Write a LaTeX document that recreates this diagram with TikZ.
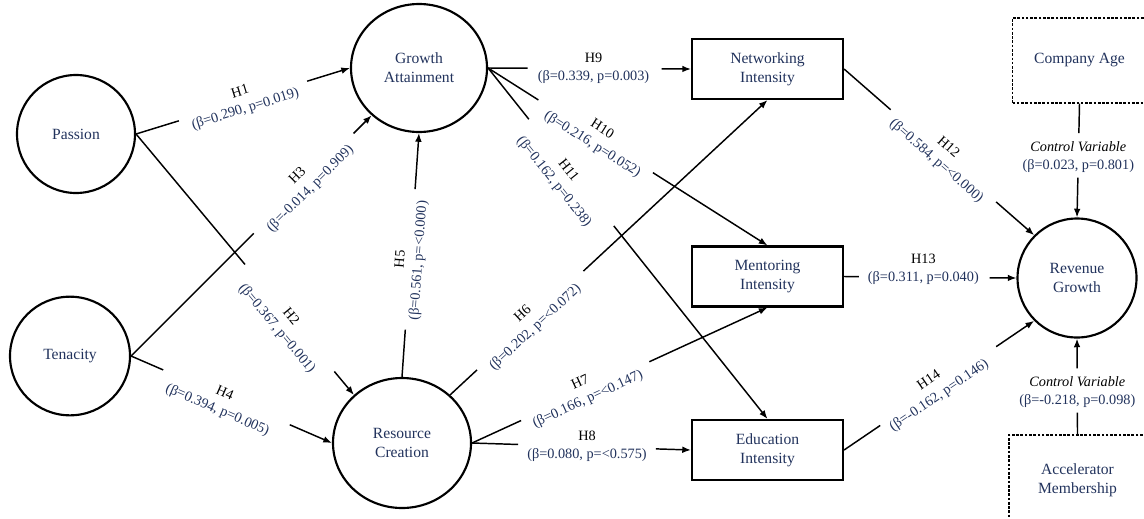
\documentclass[tikz,border=0pt]{standalone}
\usepackage{fontspec}
\setmainfont{Liberation Serif}
\usetikzlibrary{shapes.geometric,arrows.meta}
\definecolor{navy}{RGB}{33,50,92}
\newcommand{\hh}[1]{\textcolor{black}{#1}}
\newcommand{\hlink}[6]{%
  \path (#2) -- coordinate[pos=#4] (gA) coordinate[pos=#5] (gB) node[lab,#1] {#6} (#3);
  \draw[ln] (#2) -- (gA);
  \draw[arr] (gB) -- (#3);
}
\tikzset{
  circ/.style={ellipse,draw,line width=1.6pt,inner sep=0pt,text=navy,align=center,font=\fontsize{11.7}{14.25}\selectfont},
  sqbox/.style={rectangle,draw,line width=1.6pt,minimum width=113.25pt,minimum height=45pt,inner sep=0pt,text=navy,align=center,font=\fontsize{11.7}{14.25}\selectfont},
  ctrl/.style={rectangle,draw,dash pattern=on 2pt off 1.2pt,line width=0.9pt,inner sep=0pt,text=navy,align=center,font=\fontsize{11.7}{14.25}\selectfont},
  ln/.style={line width=1.1pt},
  arr/.style={line width=1.1pt,-{Latex[length=6.5pt,width=5pt]}},
  lab/.style={align=center,inner sep=0pt,text=navy,font=\fontsize{10.7}{13.5}\selectfont},
}
\begin{document}
\begin{tikzpicture}[x=0.75pt,y=-0.75pt]
\useasboundingbox (0,0) rectangle (1144,518);
\clip (0,0) rectangle (1144,518);
% nodes
\node[circ,minimum width=88.5pt,minimum height=88.5pt] (passion) at (76,134) {Passion};
\node[circ,minimum width=90pt,minimum height=89pt] (tenacity) at (70,356) {Tenacity};
\node[circ,minimum width=102pt,minimum height=96pt] (ga) at (419,68) {Growth\\Attainment};
\node[circ,minimum width=103.5pt,minimum height=97.5pt] (rc) at (402,443) {Resource\\Creation};
\node[circ,minimum width=89.25pt,minimum height=89.25pt] (rg) at (1077,278) {Revenue\\Growth};
\node[sqbox] (net) at (767.5,69) {Networking\\Intensity};
\node[sqbox] (ment) at (767.5,276.5) {Mentoring\\Intensity};
\node[sqbox] (edu) at (767.5,450) {Education\\Intensity};
\node[ctrl,minimum width=100.5pt,minimum height=63.75pt] (age) at (1079.5,60.5) {Company Age};
\node[ctrl,minimum width=102.75pt,minimum height=67.5pt] (acc) at (1077.5,480) {Accelerator\\Membership};
% connectors
\hlink{pos=.5,sloped}{passion.east}{ga.west}{.2}{.8}{\hh{H1}\\(β=0.290, p=0.019)}
\hlink{pos=.705,sloped,yshift=-6pt}{passion.east}{rc.135}{.5}{.91}{\hh{H2}\\(β=0.367, p=0.001)}
\hlink{pos=.72,sloped}{tenacity.east}{ga.-135}{.51}{.925}{\hh{H3}\\(β=-0.014, p=0.909)}
\hlink{pos=.46,sloped,yshift=-5pt}{tenacity.east}{rc.west}{.16}{.79}{\hh{H4}\\(β=0.394, p=0.005)}
\hlink{pos=.48,sloped}{rc.north}{ga.south}{.194}{.77}{\hh{H5}\\(β=0.561, p=<0.000)}
\hlink{pos=.25,sloped}{rc.45}{net.south}{.085}{.42}{\hh{H6}\\(β=0.202, p=<0.072)}
\hlink{pos=.38,sloped}{rc.east}{ment.south}{.166}{.60}{\hh{H7}\\(β=0.166, p=<0.147)}
\hlink{pos=.525}{rc.east}{edu.west}{.21}{.84}{\hh{H8}\\(β=0.080, p=<0.575)}
\hlink{pos=.52}{ga.east}{net.west}{.195}{.855}{\hh{H9}\\(β=0.339, p=0.003)}
\hlink{pos=.39,sloped}{ga.east}{ment.north}{.18}{.59}{\hh{H10}\\(β=0.216, p=0.052)}
\hlink{pos=.29,sloped,yshift=-8pt}{ga.east}{edu.north}{.146}{.45}{\hh{H11}\\(β=0.162, p=0.238)}
\hlink{pos=.515,sloped}{net.east}{rg.135}{.245}{.80}{\hh{H12}\\(β=0.584, p=<0.000)}
\hlink{pos=.46,yshift=6pt}{ment.east}{rg.west}{.086}{.845}{\hh{H13}\\(β=0.311, p=0.040)}
\hlink{pos=.475,sloped}{edu.east}{rg.-135}{.19}{.80}{\hh{H14}\\(β=-0.162, p=0.146)}
\hlink{pos=.47}{age.south}{rg.north}{.26}{.65}{\hh{\textit{Control Variable}}\\(β=0.023, p=0.801)}
\hlink{pos=.44}{acc.north}{rg.south}{.227}{.69}{\hh{\textit{Control Variable}}\\(β=-0.218, p=0.098)}
\end{tikzpicture}
\end{document}
